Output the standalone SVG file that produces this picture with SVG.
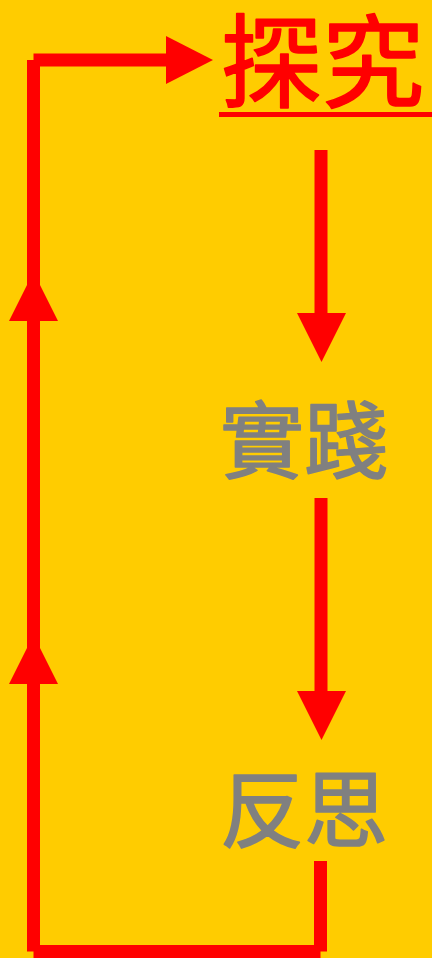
<svg xmlns="http://www.w3.org/2000/svg" width="432" height="958" viewBox="0 0 432 958">
<style>
.ln{fill:none;stroke:#FF0000;stroke-width:13;stroke-linecap:butt}
.hd{fill:#FF0000}
.t{font-family:"Noto Sans CJK TC","Noto Sans CJK SC",sans-serif;font-weight:normal;stroke-width:1.6;stroke-linejoin:round}
.red{fill:#FF0000;stroke:#FF0000}
.gray{fill:#808080;stroke:#808080}
</style>
<rect x="0" y="0" width="432" height="958" fill="#FFCC00"/>
<g id="node-tanjiu">
<text class="t red" x="220" y="100" font-size="102">探究</text>
<rect x="219" y="112" width="213" height="5" fill="#FF0000"/>
</g>
<g id="node-shijian">
<text class="t gray" x="220" y="472" font-size="84">實踐</text>
</g>
<g id="node-fansi">
<text class="t gray" x="220" y="841" font-size="84">反思</text>
</g>
<g id="connectors">
<line class="ln" x1="321" y1="150" x2="321" y2="316"/>
<polygon class="hd" points="297,313 346,313 321.5,362"/>
<line class="ln" x1="321" y1="498" x2="321" y2="694"/>
<polygon class="hd" points="297,691 346,691 321.5,740"/>
<line class="ln" x1="320.5" y1="861" x2="320.5" y2="951.5"/>
<line class="ln" x1="320.5" y1="951.5" x2="33.5" y2="951.5"/>
<line class="ln" x1="33.5" y1="951.5" x2="33.5" y2="60"/>
<polygon class="hd" points="9,684 58,684 33.5,635"/>
<polygon class="hd" points="9,321 58,321 33.5,272"/>
<line class="ln" x1="33.5" y1="60" x2="170" y2="60"/>
<polygon class="hd" points="166,36 213,60 166,84"/>
</g>
</svg>
